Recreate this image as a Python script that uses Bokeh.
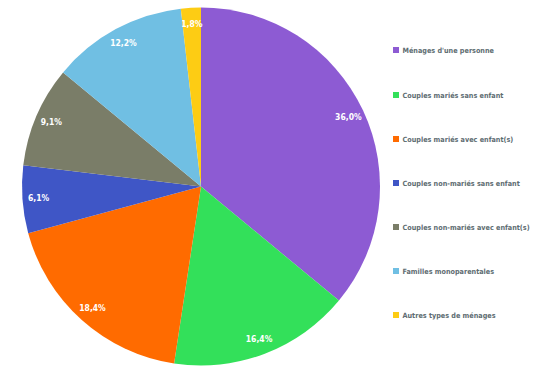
import math
from bokeh.plotting import figure
from bokeh.models import Range1d, ColumnDataSource
from bokeh.core.properties import value
from bokeh.embed import file_html
from bokeh.resources import INLINE

categories = [" Ménages d'une personne", "Couples mariés sans enfant", "Couples mariés avec enfant(s)",
              "Couples non-mariés sans enfant", "Couples non-mariés avec enfant(s)",
              "Familles monoparentales", "Autres types de ménages"]
shares = [36.0, 16.4, 18.4, 6.1, 9.1, 12.2, 1.8]
labels = ["36,0%", "16,4%", "18,4%", "6,1%", "9,1%", "12,2%", "1,8%"]
colors = ["#8d5bd3", "#33e05a", "#ff6b00", "#3f56c6", "#7a7d68", "#70bfe3", "#fdcc14"]

W, H = 539, 381
cx, cy, r = 200.5, H - 186, 179
FONT = "'DejaVu Sans Condensed', 'Liberation Sans'"

total = sum(shares)
starts, ends, lx, ly = [], [], [], []
acc = 0.0
for s in shares:
    a0 = math.pi / 2 - 2 * math.pi * acc / total
    a1 = math.pi / 2 - 2 * math.pi * (acc + s) / total
    starts.append(a1)
    ends.append(a0)
    mid = (a0 + a1) / 2
    lx.append(cx + 0.91 * r * math.cos(mid))
    ly.append(cy + 0.91 * r * math.sin(mid))
    acc += s

src = ColumnDataSource(dict(start=starts, end=ends, color=colors, lx=lx, ly=ly, label=labels))

p = figure(width=W, height=H, output_backend="svg", toolbar_location=None,
           x_range=Range1d(0, W), y_range=Range1d(0, H), min_border=0)
p.axis.visible = False
p.grid.visible = False
p.outline_line_color = None

p.wedge(x=cx, y=cy, radius=r, start_angle="start", end_angle="end",
        fill_color="color", line_color=None, source=src)
p.text(x="lx", y="ly", text="label", text_color="white", text_font=value(FONT),
       text_font_style="bold", text_font_size="8.5px", text_align="center",
       text_baseline="middle", source=src)

# legend
leg_y = [H - (50.5 + 44 * i) for i in range(len(categories))]
leg_y[0] = H - 49.5
leg = ColumnDataSource(dict(y=leg_y, color=colors, text=categories, x=[395.5] * 7, tx=[402] * 7))
p.rect(x="x", y="y", width=6, height=6, fill_color="color", line_color=None, source=leg)
p.text(x="tx", y="y", text="text", text_color="#5e6d72", text_font=value(FONT),
       text_font_style="bold", text_font_size="7.2px", text_baseline="middle", source=leg)

open("out.html", "w").write(file_html(p, INLINE))
